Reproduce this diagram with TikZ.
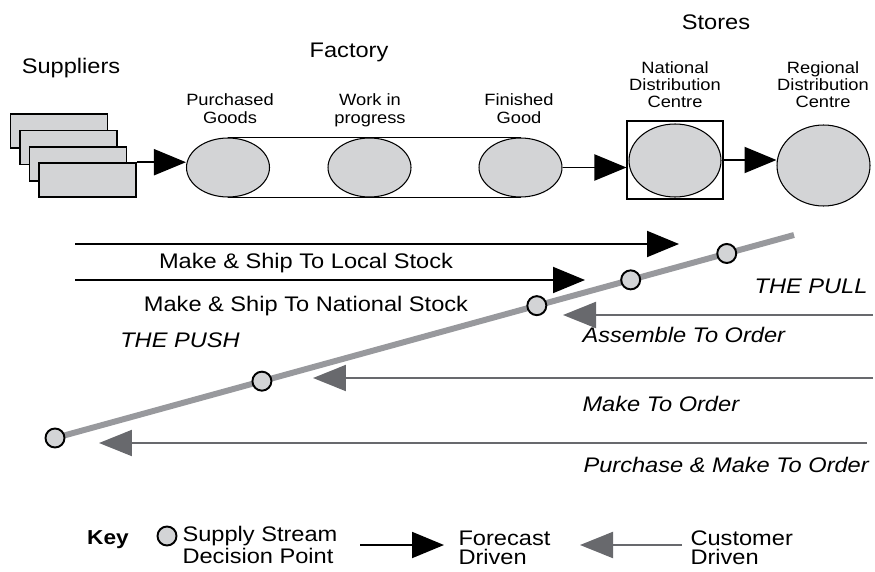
\documentclass[tikz,border=0pt]{standalone}
\usepackage{fontspec}
\setmainfont{Liberation Sans}[FakeStretch=1.12]
\usepackage{tikz}
\usetikzlibrary{arrows.meta, shapes.geometric, calc}
\definecolor{light}{RGB}{211, 212, 214}
\definecolor{mid}{RGB}{152, 153, 157}
\definecolor{dark}{RGB}{104, 105, 109}
\newcommand{\bigfont}{\fontsize{12}{14}\selectfont}
\newcommand{\smallfont}{\fontsize{9.3}{9.9}\selectfont}
\newcommand{\keyfont}{\fontsize{12}{10.8}\selectfont}

\begin{document}
\begin{tikzpicture}[x=0.02cm, y=-0.02cm, line width=0.6pt,
    stock/.style={ellipse, draw, fill=light, inner sep=0pt},
    supplier/.style={rectangle, draw, fill=light, line width=0.9pt,
                     minimum width=1.94cm, minimum height=0.68cm},
    stagetext/.style={font=\smallfont, align=center, anchor=base, inner sep=0pt},
    heading/.style={font=\bigfont, anchor=base, inner sep=0pt},
    keytext/.style={font=\keyfont, align=left, anchor=base west, inner sep=0pt},
    forecast/.style={line width=1.1pt, -{Triangle[length=0.64cm, width=0.52cm]}},
    customer/.style={dark, line width=1.2pt, -{Triangle[length=0.66cm, width=0.52cm]}},
    dpoint/.style={circle, draw, fill=light, line width=1.1pt, minimum size=0.38cm, inner sep=0pt}]

  \useasboundingbox (0, 0) rectangle (875, 571);

  % suppliers, factory and stores
  \foreach \x/\y [count=\n] in {59/131, 68.5/147.5, 78/164, 87.5/180} {
    \node[supplier] (s\n) at (\x, \y) {};
  }
  \node[stock, minimum width=1.66cm, minimum height=1.18cm] (pg) at (228, 167.5) {};
  \node[stock, minimum width=1.66cm, minimum height=1.18cm] (wip) at (369.5, 167.5) {};
  \node[stock, minimum width=1.66cm, minimum height=1.18cm] (fg) at (520.5, 167.5) {};
  \draw[line width=0.9pt] (pg.north) -- (fg.north);
  \draw[line width=0.9pt] (pg.south) -- (fg.south);

  \node[draw, minimum width=1.92cm, minimum height=1.56cm] (ndc) at (675, 160) {};
  \node[stock, minimum width=1.84cm, minimum height=1.46cm] (ndcs) at (675, 160.5) {};
  \node[stock, minimum width=1.86cm, minimum height=1.62cm] (rdc) at (823.5, 165.5) {};

  \draw[forecast] (s4.north east) -- (s4.north east -| pg.west);
  \draw[forecast] (fg.east) -- (fg.east -| ndc.west);
  \draw[forecast] (ndc.east) -- (ndc.east -| rdc.west);

  \node[heading] (suppliers) at (71, 73) {Suppliers};
  \node[heading] (factory) at (349, 58) {Factory};
  \node[heading] (stores) at (716, 30) {Stores};
  \node[stagetext] (pgt) at (230, 123) {Purchased\\Goods};
  \node[stagetext] (wipt) at (370, 123) {Work in\\progress};
  \node[stagetext] (fgt) at (519, 123) {Finished\\Good};
  \node[stagetext] (ndct) at (675, 108) {National\\Distribution\\Centre};
  \node[stagetext] (rdct) at (823, 108) {Regional\\Distribution\\Centre};

  % push arrows
  \coordinate (ls0) at (75, 244);
  \coordinate (ls1) at (679, 244);
  \coordinate (ns0) at (75, 280);
  \coordinate (ns1) at (585, 280);
  \draw[forecast] (ls0) -- (ls1);
  \draw[forecast] (ns0) -- (ns1);
  \node[heading] (lst) at (306, 268) {Make \& Ship To Local Stock};
  \node[heading] (nst) at (306, 311) {Make \& Ship To National Stock};
  \node[heading, font=\bigfont\itshape] (pusht) at (180, 347) {THE PUSH};

  % decision points
  \coordinate (st0) at (55, 438);
  \coordinate (st1) at (794, 235);
  \draw[mid, line width=3.4pt] (st0) -- (st1);
  \foreach \pos [count=\n] in {0, 0.28, 0.652, 0.779, 0.909} {
    \node[dpoint] (dp\n) at ($(st0)!\pos!(st1)$) {};
  }

  % pull arrows
  \foreach \y/\x/\e [count=\n] in {315/563/873, 378/313/873, 443/99/867} {
    \coordinate (co\n) at (\e, \y);
    \coordinate (ct\n) at (\x, \y);
    \draw[customer] (co\n) -- (ct\n);
  }
  \node[heading, font=\bigfont\itshape] (pullt) at (811, 293) {THE PULL};
  \node[heading, anchor=base west, font=\bigfont\itshape] (atot) at (582, 342) {Assemble To Order};
  \node[heading, anchor=base west, font=\bigfont\itshape] (mtot) at (582, 411) {Make To Order};
  \node[heading, anchor=base west, font=\bigfont\itshape] (pmtot) at (583, 472) {Purchase \& Make To Order};

  % key
  \node[heading, font=\fontsize{11.5}{13}\selectfont\bfseries] (key) at (108, 544) {Key};
  \node[dpoint] (kp) at (167, 536) {};
  \node[keytext] (kpt) at (182, 563) {Supply Stream\\Decision Point};
  \coordinate (kf0) at (360, 545);
  \coordinate (kf1) at (444, 545);
  \draw[forecast] (kf0) -- (kf1);
  \node[keytext] (kft) at (458, 564) {Forecast\\Driven};
  \coordinate (kc0) at (682, 545);
  \coordinate (kc1) at (580, 545);
  \draw[customer] (kc0) -- (kc1);
  \node[keytext] (kct) at (690, 564) {Customer\\Driven};

\end{tikzpicture}
\end{document}
